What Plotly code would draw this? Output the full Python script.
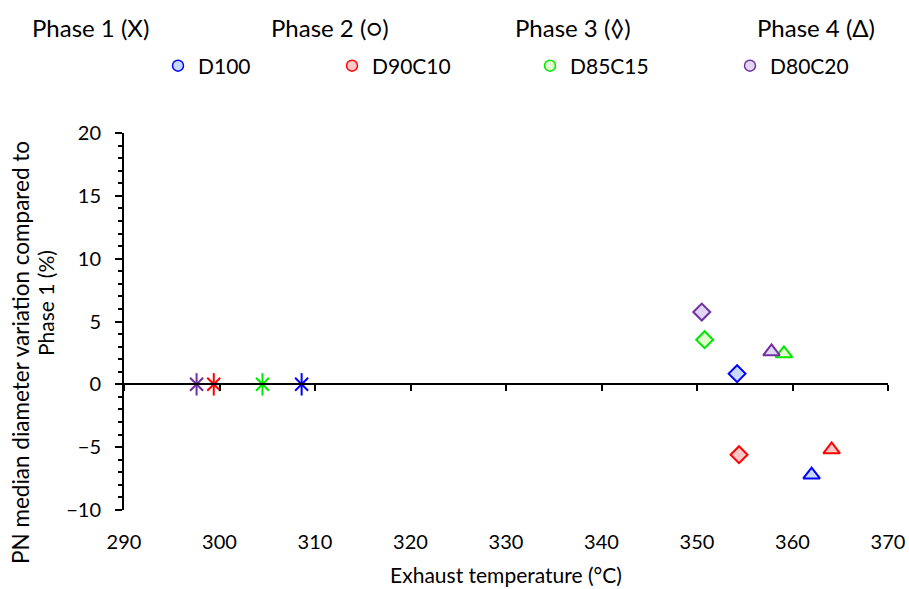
import plotly.graph_objects as go

fuels = ["D100", "D90C10", "D85C15", "D80C20"]
line_colors = ["#0000FF", "#FF0000", "#00E600", "#7030A0"]
fill_colors = ["rgb(200,218,255)", "rgb(255,200,200)", "rgb(225,255,205)", "rgb(225,215,245)"]

# Phase 1 (reference, 0 %)
p1_temp = [308.6, 299.4, 304.5, 297.6]
p1_var = [0, 0, 0, 0]
# Phase 3 (diamonds)
p3_temp = [354.2, 354.4, 350.8, 350.5]
p3_var = [0.85, -5.6, 3.55, 5.75]
# Phase 4 (triangles)
p4_temp = [362.0, 364.1, 359.1, 357.8]
p4_var = [-7.2, -5.2, 2.45, 2.6]

phase_labels = ["Phase 1 (X)", "Phase 2 (○)", "Phase 3 (◊)", "Phase 4 (Δ)"]
x_ticks = [290, 300, 310, 320, 330, 340, 350, 360, 370]
y_ticks = [-10, -5, 0, 5, 10, 15, 20]
y_title_lines = ["PN median diameter variation compared to", "Phase 1 (%)"]

FONT = "Lato"
L, R, T, B = 124, 21, 133, 79
PW, PH = 909 - L - R, 589 - T - B

fig = go.Figure()

# invisible trace to activate the zero-line axis
fig.add_trace(go.Scatter(x=[None], y=[None], xaxis="x2", yaxis="y", showlegend=False, hoverinfo="skip"))

legend_names = ["legend", "legend2", "legend3", "legend4"]
legend_px = [178, 352, 550, 750]

for i, f in enumerate(fuels):
    fig.add_trace(go.Scatter(
        x=[None], y=[None], mode="markers", name=f, legend=legend_names[i],
        marker=dict(symbol="circle", size=11, color=fill_colors[i],
                    line=dict(color=line_colors[i], width=1.5)),
    ))

for i, f in enumerate(fuels):
    fig.add_trace(go.Scatter(
        x=[p3_temp[i]], y=[p3_var[i]], mode="markers", showlegend=False,
        marker=dict(symbol="diamond", size=13, color=fill_colors[i],
                    line=dict(color=line_colors[i], width=2)),
    ))
    fig.add_trace(go.Scatter(
        x=[p4_temp[i]], y=[p4_var[i]], mode="markers", showlegend=False,
        marker=dict(symbol="triangle-up", size=14.5, color=fill_colors[i],
                    line=dict(color=line_colors[i], width=2)),
    ))

for i, f in enumerate(fuels):
    for sym, sz in [("x-thin-open", 13), ("line-ns-open", 16)]:
        fig.add_trace(go.Scatter(
            x=[p1_temp[i]], y=[p1_var[i]], mode="markers", showlegend=False,
            marker=dict(symbol=sym, size=sz, color=line_colors[i],
                        line=dict(color=line_colors[i], width=2)),
        ))

ann_x = [90, 330, 573, 816]
for lbl, px in zip(phase_labels, ann_x):
    fig.add_annotation(x=(px - L) / PW, y=1 + (T - 28) / PH, xref="paper", yref="paper",
                       text=lbl, showarrow=False, font=dict(size=24, color="black", family=FONT),
                       xanchor="center", yanchor="middle")

# y-axis title (two lines, as in the reference)
for txt, (px, py, fs) in zip(y_title_lines, [(20, 353, 22.5), (45, 303, 21)]):
    fig.add_annotation(x=(px - L) / PW, y=1 - (py - T) / PH, xref="paper", yref="paper",
                       text=txt, textangle=-90, showarrow=False,
                       font=dict(size=fs, color="black", family=FONT),
                       xanchor="center", yanchor="middle")

legend_cfg = {}
for name, px in zip(legend_names, legend_px):
    legend_cfg[name] = dict(orientation="h", x=(px - 20 - L) / PW, y=1 + (T - 66) / PH,
                            xanchor="left", yanchor="middle", itemwidth=30,
                            font=dict(size=21, family=FONT, color="black"),
                            bgcolor="rgba(0,0,0,0)", borderwidth=0)

fig.update_layout(
    width=909, height=589,
    margin=dict(l=L, r=R, t=T, b=B, autoexpand=False),
    plot_bgcolor="white", paper_bgcolor="white",
    font=dict(family=FONT, size=20, color="black"),
    showlegend=True,
    **legend_cfg,
    xaxis=dict(range=[290, 370], tickvals=x_ticks, showline=False, showgrid=False,
               zeroline=False, ticks="", ticklabelstandoff=18, automargin=False,
               title=dict(text="Exhaust temperature (°C)", font=dict(size=21), standoff=16)),
    xaxis2=dict(range=[290, 370], tickvals=x_ticks, overlaying="x", anchor="free",
                position=1/3, showline=True, linecolor="black", linewidth=2,
                ticks="outside", ticklen=6, tickwidth=2, tickcolor="black", automargin=False,
                showticklabels=False, showgrid=False, zeroline=False),
    yaxis=dict(range=[-10, 20], tickvals=y_ticks, showline=True, linecolor="black", linewidth=2,
               ticks="outside", ticklen=7, tickwidth=2, tickcolor="black", automargin=False,
               minor=dict(dtick=1, ticks="outside", ticklen=4, tickwidth=1.5, tickcolor="black"),
               showgrid=False, zeroline=False, ticklabelstandoff=10),
)

fig.write_html("out.html")
